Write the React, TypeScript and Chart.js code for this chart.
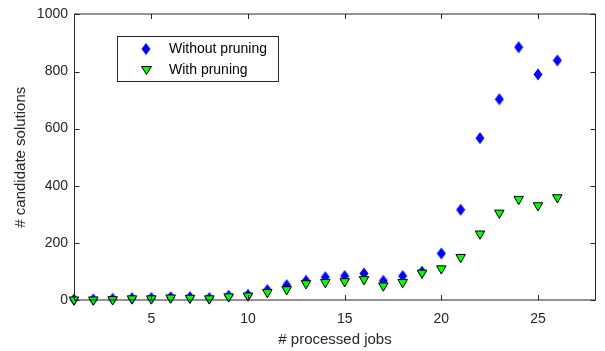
import React, { useEffect, useRef } from "react";
import { Chart, registerables } from "chart.js";

Chart.register(...registerables);

const jobs = [1, 2, 3, 4, 5, 6, 7, 8, 9, 10, 11, 12, 13, 14, 15, 16, 17, 18, 19, 20, 21, 22, 23, 24, 25, 26];
const withoutPruning = [2, 2, 4, 6, 7, 10, 10, 7, 15, 18, 35, 52, 67, 80, 84, 93, 67, 84, 99, 163, 316, 567, 703, 885, 790, 839];
const withPruning = [1, 1, 2, 5, 5, 8, 7, 5, 12, 15, 27, 37, 58, 62, 65, 72, 50, 62, 95, 110, 150, 232, 305, 353, 331, 359];
const xTickValues = [5, 10, 15, 20, 25];
const yTickValues = [0, 200, 400, 600, 800, 1000];
const seriesLabels = ["Without pruning", "With pruning"];
const xTitle = "# processed jobs";
const yTitle = "# candidate solutions";

const AXIS_COLOR = "#262626";
const FONT = "'Liberation Sans', Arial, Helvetica, sans-serif";

function makeDiamond(): HTMLCanvasElement {
  const c = document.createElement("canvas");
  c.width = 10;
  c.height = 13;
  const g = c.getContext("2d")!;
  g.fillStyle = "#0000ff";
  g.beginPath();
  g.moveTo(5, 0.5);
  g.lineTo(9.5, 6.5);
  g.lineTo(5, 12.5);
  g.lineTo(0.5, 6.5);
  g.closePath();
  g.fill();
  return c;
}

function drawDownTriangle(ctx: CanvasRenderingContext2D, cx: number, cy: number) {
  ctx.save();
  ctx.fillStyle = "#00ff00";
  ctx.strokeStyle = "#000000";
  ctx.lineWidth = 1;
  ctx.beginPath();
  ctx.moveTo(cx - 5, cy - 4);
  ctx.lineTo(cx + 5, cy - 4);
  ctx.lineTo(cx, cy + 4);
  ctx.closePath();
  ctx.fill();
  ctx.stroke();
  ctx.restore();
}

export default function App() {
  const ref = useRef<HTMLCanvasElement | null>(null);

  useEffect(() => {
    document.body.style.margin = "0";
    const canvas = ref.current;
    if (!canvas) return;
    const diamond = makeDiamond();

    const boxPlugin = {
      id: "matlabBox",
      afterDraw(chart: any) {
        const ctx = chart.ctx as CanvasRenderingContext2D;
        const { left, right, top, bottom } = chart.chartArea;
        const xs = chart.scales.x;
        const ys = chart.scales.y;
        ctx.save();
        ctx.strokeStyle = AXIS_COLOR;
        ctx.lineWidth = 1;
        const L = Math.round(left) + 0.5;
        const R = Math.round(right) - 0.5;
        const T = Math.round(top);
        const B = Math.round(bottom);
        ctx.beginPath();
        ctx.moveTo(L, T);
        ctx.lineTo(R, T);
        ctx.moveTo(L, B);
        ctx.lineTo(R, B);
        ctx.moveTo(L, T);
        ctx.lineTo(L, B);
        ctx.moveTo(R, T);
        ctx.lineTo(R, B);
        const tl = 5;
        for (const v of xTickValues) {
          const px = Math.round(xs.getPixelForValue(v)) + 0.5;
          ctx.moveTo(px, B);
          ctx.lineTo(px, B - tl);
          ctx.moveTo(px, T);
          ctx.lineTo(px, T + tl);
        }
        for (const v of yTickValues) {
          const py = Math.round(ys.getPixelForValue(v)) + 0.5;
          ctx.moveTo(L, py);
          ctx.lineTo(L + tl, py);
          ctx.moveTo(R, py);
          ctx.lineTo(R - tl, py);
        }
        ctx.stroke();

        // legend
        const bx = 117.5, by = 36.5, bw = 161, bh = 45;
        ctx.fillStyle = "#ffffff";
        ctx.fillRect(bx, by, bw, bh);
        ctx.strokeStyle = AXIS_COLOR;
        ctx.strokeRect(bx, by, bw, bh);
        ctx.drawImage(diamond, 146 - 5, 49 - 6.5);
        drawDownTriangle(ctx, 146.5, 70.5);
        ctx.fillStyle = "#000000";
        ctx.font = `14px ${FONT}`;
        ctx.textBaseline = "middle";
        ctx.textAlign = "left";
        ctx.fillText(seriesLabels[0], 169, 49);
        ctx.fillText(seriesLabels[1], 169, 70);
        ctx.restore();
      },
    };

    const chart = new Chart(canvas, {
      type: "scatter",
      data: {
        datasets: [
          {
            label: seriesLabels[0],
            data: jobs.map((x, i) => ({ x, y: withoutPruning[i] })),
            pointStyle: diamond as any,
            pointRadius: 6,
            order: 2,
            clip: false as any,
          },
          {
            label: seriesLabels[1],
            data: jobs.map((x, i) => ({ x, y: withPruning[i] })),
            pointStyle: "triangle",
            rotation: 180,
            pointRadius: 5.5,
            backgroundColor: "#00ff00",
            borderColor: "#000000",
            borderWidth: 1,
            order: 1,
            clip: false as any,
          } as any,
        ],
      },
      options: {
        animation: false,
        responsive: false,
        events: [],
        layout: { padding: { left: 0, top: 10, right: 9, bottom: 0 } },
        plugins: {
          legend: { display: false },
          tooltip: { enabled: false },
        },
        scales: {
          x: {
            type: "linear",
            min: 1,
            max: 28,
            grid: { display: false, drawTicks: false },
            border: { display: false },
            afterBuildTicks: (s: any) => {
              s.ticks = xTickValues.map((v) => ({ value: v }));
            },
            afterFit: (s: any) => {
              s.height = 51;
            },
            ticks: {
              color: AXIS_COLOR,
              font: { family: FONT, size: 14 },
              padding: 11,
              maxRotation: 0,
              autoSkip: false,
              callback: (v: any) => String(v),
            },
            title: {
              display: true,
              text: xTitle,
              color: AXIS_COLOR,
              font: { family: FONT, size: 15 },
              padding: { top: 0, bottom: 2 },
            },
          },
          y: {
            type: "linear",
            min: 0,
            max: 1000,
            grid: { display: false, drawTicks: false },
            border: { display: false },
            afterBuildTicks: (s: any) => {
              s.ticks = yTickValues.map((v) => ({ value: v }));
            },
            afterFit: (s: any) => {
              s.width = 74;
            },
            ticks: {
              color: AXIS_COLOR,
              font: { family: FONT, size: 14 },
              padding: 6,
              autoSkip: false,
              callback: (v: any) => String(v),
            },
            title: {
              display: true,
              text: yTitle,
              color: AXIS_COLOR,
              font: { family: FONT, size: 15 },
              padding: { top: 12, bottom: 0 },
            },
          },
        },
      },
      plugins: [boxPlugin],
    });
    return () => chart.destroy();
  }, []);

  return (
    <div style={{ width: 605, height: 351 }}>
      <canvas ref={ref} width={605} height={351} style={{ display: "block" }} />
    </div>
  );
}
